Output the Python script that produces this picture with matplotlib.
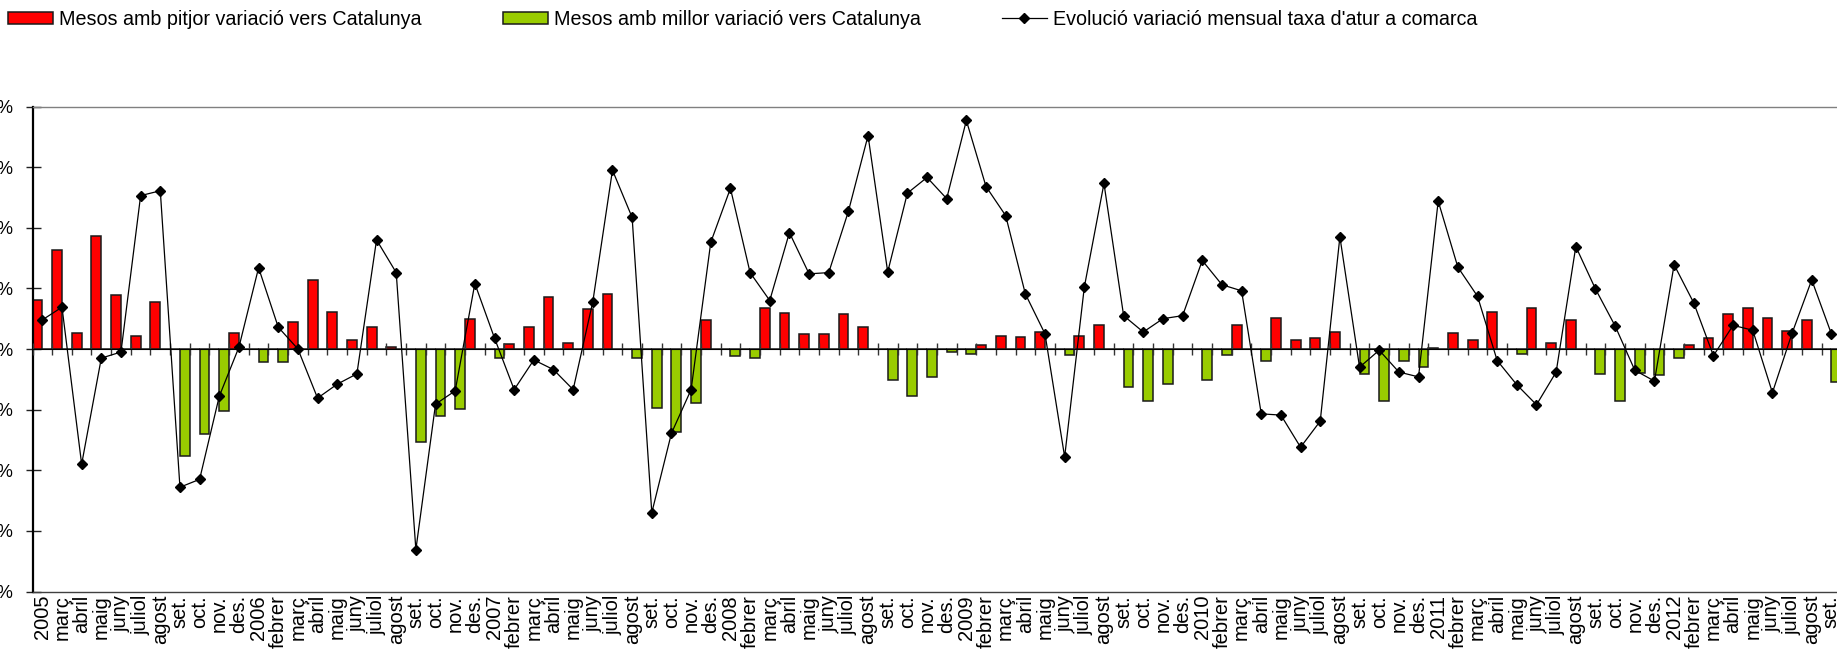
import matplotlib
matplotlib.use("Agg")
import matplotlib.pyplot as plt
import numpy as np

plt.rcParams['font.family'] = ['Liberation Sans', 'DejaVu Sans']

labels = ["2005", "març", "abril", "maig", "juny", "juliol", "agost", "set.", "oct.", "nov.", "des.",
          "2006", "febrer", "març", "abril", "maig", "juny", "juliol", "agost", "set.", "oct.", "nov.", "des.",
          "2007", "febrer", "març", "abril", "maig", "juny", "juliol", "agost", "set.", "oct.", "nov.", "des.",
          "2008", "febrer", "març", "abril", "maig", "juny", "juliol", "agost", "set.", "oct.", "nov.", "des.",
          "2009", "febrer", "març", "abril", "maig", "juny", "juliol", "agost", "set.", "oct.", "nov.", "des.",
          "2010", "febrer", "març", "abril", "maig", "juny", "juliol", "agost", "set.", "oct.", "nov.", "des.",
          "2011", "febrer", "març", "abril", "maig", "juny", "juliol", "agost", "set.", "oct.", "nov.", "des.",
          "2012", "febrer", "març", "abril", "maig", "juny", "juliol", "agost", "set."]

pitjor = [0.81, 1.64, 0.26, 1.86, 0.89, 0.21, 0.77, 0, 0, 0, 0.26,
          0, 0, 0.45, 1.14, 0.61, 0.15, 0.36, 0.03, 0, 0, 0, 0.50,
          0, 0.08, 0.37, 0.85, 0.10, 0.66, 0.91, 0, 0, 0, 0, 0.48,
          0, 0, 0.68, 0.60, 0.24, 0.25, 0.58, 0.37, 0, 0, 0, 0,
          0, 0.07, 0.22, 0.20, 0.28, 0, 0.22, 0.40, 0, 0, 0, 0,
          0, 0, 0.40, 0, 0.51, 0.15, 0.18, 0.28, 0, 0, 0, 0,
          0.02, 0.26, 0.15, 0.61, 0, 0.68, 0.10, 0.48, 0, 0, 0, 0,
          0, 0.07, 0.18, 0.58, 0.68, 0.51, 0.30, 0.48, 0]

millor = [0, 0, 0, 0, 0, 0, 0, -1.77, -1.41, -1.02, 0,
          -0.21, -0.22, 0, 0, 0, 0, 0, 0, -1.54, -1.11, -0.99, 0,
          -0.15, 0, 0, 0, 0, 0, 0, -0.15, -0.98, -1.37, -0.89, 0,
          -0.12, -0.15, 0, 0, 0, 0, 0, 0, -0.51, -0.78, -0.46, -0.05,
          -0.08, 0, 0, 0, 0, -0.10, 0, 0, -0.63, -0.86, -0.58, 0,
          -0.51, -0.10, 0, -0.20, 0, 0, 0, 0, -0.41, -0.86, -0.20, -0.29,
          0, 0, 0, 0, -0.08, 0, 0, 0, -0.41, -0.86, -0.39, -0.43,
          -0.15, 0, 0, 0, 0, 0, 0, 0, -0.54]

evolucio = [0.48, 0.69, -1.90, -0.15, -0.05, 2.53, 2.61, -2.28, -2.15, -0.78, 0.03,
            1.34, 0.36, 0.0, -0.81, -0.58, -0.41, 1.80, 1.26, -3.31, -0.91, -0.69, 1.08,
            0.18, -0.67, -0.18, -0.34, -0.67, 0.78, 2.95, 2.17, -2.70, -1.39, -0.67, 1.76,
            2.65, 1.26, 0.80, 1.92, 1.24, 1.26, 2.27, 3.52, 1.27, 2.57, 2.83, 2.48,
            3.77, 2.68, 2.20, 0.91, 0.25, -1.78, 1.02, 2.73, 0.55, 0.28, 0.50, 0.55,
            1.46, 1.06, 0.96, -1.07, -1.09, -1.62, -1.19, 1.85, -0.30, -0.02, -0.38, -0.46,
            2.44, 1.35, 0.87, -0.19, -0.59, -0.92, -0.38, 1.69, 0.99, 0.38, -0.35, -0.53,
            1.39, 0.76, -0.11, 0.39, 0.31, -0.72, 0.26, 1.14, 0.25]

yticks = [-4, -3, -2, -1, 0, 1, 2, 3, 4]
ytick_labels = [f"{v}%" for v in yticks]

W, H = 1837, 654
fig = plt.figure(figsize=(W / 100, H / 100), dpi=100)
n = len(labels)
cat_w = 19.66
left_px, top_px, bot_px = 32.5, 106.5, 591.5
ax = fig.add_axes([left_px / W, (H - bot_px) / H, n * cat_w / W, (bot_px - top_px) / H])

x = np.arange(n)
red = ax.bar(x - 0.5, pitjor, width=0.5, align='edge', color='#FF0000',
             edgecolor='#1a1a1a', linewidth=1.1, zorder=2)
green = ax.bar(x, millor, width=0.5, align='edge', color='#99CC00',
               edgecolor='#1a1a1a', linewidth=1.1, zorder=2)
line, = ax.plot(x, evolucio, color='black', linewidth=0.9, marker='D',
                markersize=5.2, markerfacecolor='black', markeredgecolor='black', zorder=4)

ax.set_xlim(-0.5, n - 0.5)
ax.set_ylim(-4, 4)
ax.set_yticks(yticks)
ax.set_yticklabels(ytick_labels, fontsize=13)
ax.tick_params(axis='y', direction='inout', length=10.8, width=1, color='#222222', pad=8.2)

ax.set_xticks(x)
ax.set_xticklabels(labels, rotation=90, fontsize=14.5)
ax.tick_params(axis='x', length=0, pad=2.5)

ax.spines['left'].set_color('black')
ax.spines['left'].set_linewidth(1.6)
ax.spines['top'].set_color('#808080')
ax.spines['top'].set_linewidth(1.0)
ax.spines['bottom'].set_color('#404040')
ax.spines['bottom'].set_linewidth(1.0)
ax.spines['right'].set_visible(False)

# zero line with category-boundary ticks
zero = ax.secondary_xaxis(0.5)
zero.set_xticks(np.arange(n + 1) - 0.5)
zero.set_xticklabels([])
zero.tick_params(direction='inout', length=8.6, width=1, color='#333333')
zero.spines['bottom'].set_color('black')
zero.spines['bottom'].set_linewidth(1.0)
zero.set_zorder(3)

fig.legend(handles=[red, green, line],
           labels=["Mesos amb pitjor variació vers Catalunya",
                   "Mesos amb millor variació vers Catalunya",
                   "Evolució variació mensual taxa d'atur a comarca"],
           loc='center left', bbox_to_anchor=(8 / W, 1 - 19.5 / H), ncol=3, frameon=False,
           fontsize=14.2, handlelength=2.3, handleheight=0.57, handletextpad=0.3,
           columnspacing=4.1, borderpad=0, borderaxespad=0, numpoints=1)

fig.savefig("out.png", dpi=100)
